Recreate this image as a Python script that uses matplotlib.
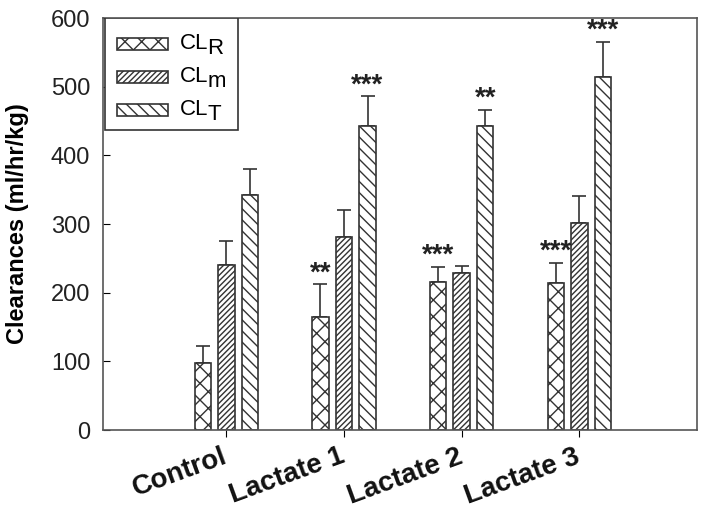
import numpy as np
import matplotlib
matplotlib.use('Agg')
import matplotlib.pyplot as plt
from matplotlib.patches import Rectangle

# valores
grupos = ['Control', 'Lactate 1', 'Lactate 2', 'Lactate 3']
cl_r = [97, 164, 216, 214]
cl_r_err = [25, 48, 22, 29]
cl_m = [240, 281, 228, 301]
cl_m_err = [35, 40, 11, 40]
cl_t = [342, 443, 443, 514]
cl_t_err = [38, 43, 23, 51]
sig_r = ['', '**', '***', '***']
sig_m = ['', '', '', '']
sig_t = ['', '***', '**', '***']
subscritos = ['R', 'm', 'T']

plt.rcParams['font.family'] = ['Liberation Sans', 'DejaVu Sans']
plt.rcParams['hatch.linewidth'] = 1.0

fig = plt.figure(figsize=(7.04, 5.08), dpi=100)
ax = fig.add_axes([0.146, 0.1535, 0.844, 0.811])

x = np.arange(len(grupos))
largura = 0.14
passo = 0.2
cor = '#333333'

series = [
    (cl_r, cl_r_err, sig_r, 'xx', -passo),
    (cl_m, cl_m_err, sig_m, '//////', 0),
    (cl_t, cl_t_err, sig_t, '\\\\\\', passo),
]

for vals, errs, sigs, hatch, off in series:
    ax.bar(x + off, vals, largura, facecolor='white', edgecolor=cor,
           linewidth=1.2, hatch=hatch, zorder=2)
    ax.errorbar(x + off, vals, yerr=[np.zeros(len(errs)), errs], fmt='none',
                ecolor=cor, elinewidth=1.2, capsize=5, capthick=1.2, zorder=1)
    for xi, v, e, s in zip(x + off, vals, errs, sigs):
        if s:
            ax.annotate(s, xy=(xi, v + e), xytext=(0, 3), textcoords='offset points',
                        ha='center', va='baseline', fontsize=20,
                        fontweight='bold', color='#222222')

ax.set_xlim(-1.05, 4.0)
ax.set_ylim(0, 600)
ax.set_yticks([0, 100, 200, 300, 400, 500, 600])
ax.set_xticks(x)
ax.set_xticklabels(grupos, rotation=20, fontsize=20, fontweight='bold',
                   ha='right', va='center', rotation_mode='anchor')
ax.tick_params(axis='y', labelsize=17, direction='in', length=5, pad=9,
               labelcolor='#222222')
ax.tick_params(axis='x', direction='out', length=5, pad=13.5, labelcolor='#111111')
ax.set_ylabel('Clearances (ml/hr/kg)', fontsize=17, fontweight='bold', labelpad=16)

for sp in ax.spines.values():
    sp.set_color('#555555')
    sp.set_linewidth(1.2)

# legenda desenhada à mão (subscrito do mesmo tamanho, só rebaixado)
ax.add_patch(Rectangle((0.003, 0.728), 0.224, 0.272, transform=ax.transAxes,
                       facecolor='white', edgecolor=cor, linewidth=1.2, zorder=5))
y_leg = [0.937, 0.857, 0.777]
for (vals, errs, sigs, hatch, off), yl, sub in zip(series, y_leg, subscritos):
    ax.add_patch(Rectangle((0.0236, yl - 0.0145), 0.0858, 0.029, transform=ax.transAxes,
                           facecolor='white', edgecolor=cor, linewidth=1.2,
                           hatch=hatch, zorder=6))
    t = ax.text(0.1301, yl, 'CL', transform=ax.transAxes, ha='left', va='center',
                fontsize=16, color='black', zorder=7)
    ax.annotate(sub, xy=(1, 0), xycoords=t, xytext=(-1, -3),
                textcoords='offset points', ha='left', va='bottom', fontsize=16,
                color='black', zorder=7)

plt.savefig('out.png', dpi=100)
